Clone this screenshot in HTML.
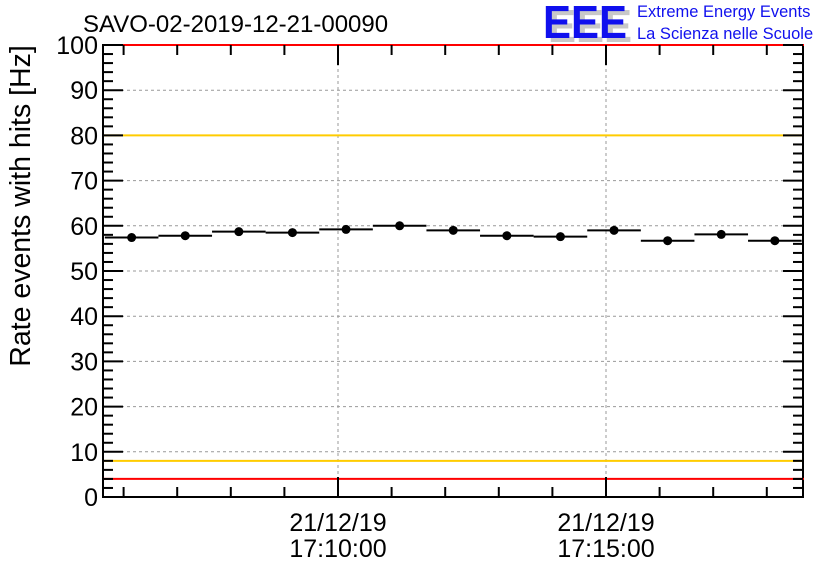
<!DOCTYPE html>
<html><head><meta charset="utf-8"><style>
body{margin:0;background:#fff;}
svg{display:block;font-family:"Liberation Sans",sans-serif;}
</style></head><body>
<svg id="c" width="836" height="572" viewBox="0 0 836 572">
<text x="83" y="32" font-size="24" fill="#000">SAVO-02-2019-12-21-00090</text>
<g>
<text x="548" y="42" font-size="46" font-weight="bold" fill="#c8c8c8" textLength="84" lengthAdjust="spacingAndGlyphs">EEE</text>
<text x="543" y="38" font-size="46" font-weight="bold" fill="#1010ee" textLength="84" lengthAdjust="spacingAndGlyphs">EEE</text>
<text x="637" y="17" font-size="16.5" fill="#1010ee">Extreme Energy Events</text>
<text x="637" y="39" font-size="16.5" fill="#1010ee">La Scienza nelle Scuole</text>
</g>
<text transform="translate(30,206) rotate(-90)" text-anchor="middle" font-size="28.5">Rate events with hits [Hz]</text>
<g id="grid"></g><g id="axes"></g><g id="marks"></g>
</svg>
<script>
const yTicks=[0,10,20,30,40,50,60,70,80,90,100];
const xMajorLabels=[["21/12/19","17:10:00"],["21/12/19","17:15:00"]];
const xMajorMinutes=[0,5];
const binStartMinutes=[-3.85,-2.85,-1.85,-0.85,0.15,1.15,2.15,3.15,4.15,5.15,6.15,7.15,8.15];
const rates=[57.4,57.8,58.7,58.5,59.2,60.0,59.0,57.8,57.6,59.0,56.7,58.1,56.7];
const thresholdsRed=[4,100];
const thresholdsYellow=[8,80];
const L=103,R=803,T=45,B=497;
const X=t=>338+53.6*t;
const Y=v=>B-(v/100)*(B-T);
const NS="http://www.w3.org/2000/svg";
function mk(tag,at,parent){const e=document.createElementNS(NS,tag);for(const k in at)e.setAttribute(k,at[k]);document.getElementById(parent).appendChild(e);return e;}
yTicks.forEach(v=>{if(v>0&&v<100){const g=mk('line',{x1:L,x2:R,y1:Y(v),y2:Y(v),stroke:'#999','stroke-dasharray':'3,3'},'grid');

}});
xMajorMinutes.forEach(m=>{const g=mk('line',{x1:X(m),x2:X(m),y1:T,y2:B,stroke:'#999','stroke-dasharray':'3,3'},'grid');

});
thresholdsYellow.forEach(v=>{const l=mk('line',{x1:L,x2:R,y1:Y(v),y2:Y(v),stroke:'#ffcc00','stroke-width':2},'grid');

});
const f=mk('rect',{x:L,y:T,width:R-L,height:B-T,fill:'none',stroke:'#000','stroke-width':2},'axes');


thresholdsRed.forEach(v=>{const l=mk('line',{x1:L,x2:R+1,y1:Y(v),y2:Y(v),stroke:'#ff0000','stroke-width':2},'axes');

});
for(let v=0;v<=100;v+=2){const len=v%10==0?20:10;mk('line',{x1:L,x2:L+len,y1:Y(v),y2:Y(v),stroke:'#000','stroke-width':2},'axes');mk('line',{x1:R-len,x2:R,y1:Y(v),y2:Y(v),stroke:'#000','stroke-width':2},'axes');}
yTicks.forEach(v=>{const t=mk('text',{x:L-5,y:Y(v)+9,'text-anchor':'end','font-size':25},'axes');t.textContent=v;

});
for(let m=-4;m<=8;m++){if(X(m)<L||X(m)>R)continue;const len=xMajorMinutes.includes(m)?20:10;mk('line',{x1:X(m),x2:X(m),y1:B-len,y2:B,stroke:'#000','stroke-width':2},'axes');mk('line',{x1:X(m),x2:X(m),y1:T,y2:T+len,stroke:'#000','stroke-width':2},'axes');}
xMajorMinutes.forEach((m,i)=>{xMajorLabels[i].forEach((s,j)=>{const t=mk('text',{x:X(m),y:531+j*26,'text-anchor':'middle','font-size':25},'axes');t.textContent=s;

});});
binStartMinutes.forEach((t,i)=>{const y=Y(rates[i]);
const s=mk('line',{x1:X(t-0.5),x2:X(t+0.5),y1:y,y2:y,stroke:'#000','stroke-width':2},'marks');


const c=mk('circle',{cx:X(t),cy:y,r:4.5,fill:'#000'},'marks');

});
</script>
</body></html>
